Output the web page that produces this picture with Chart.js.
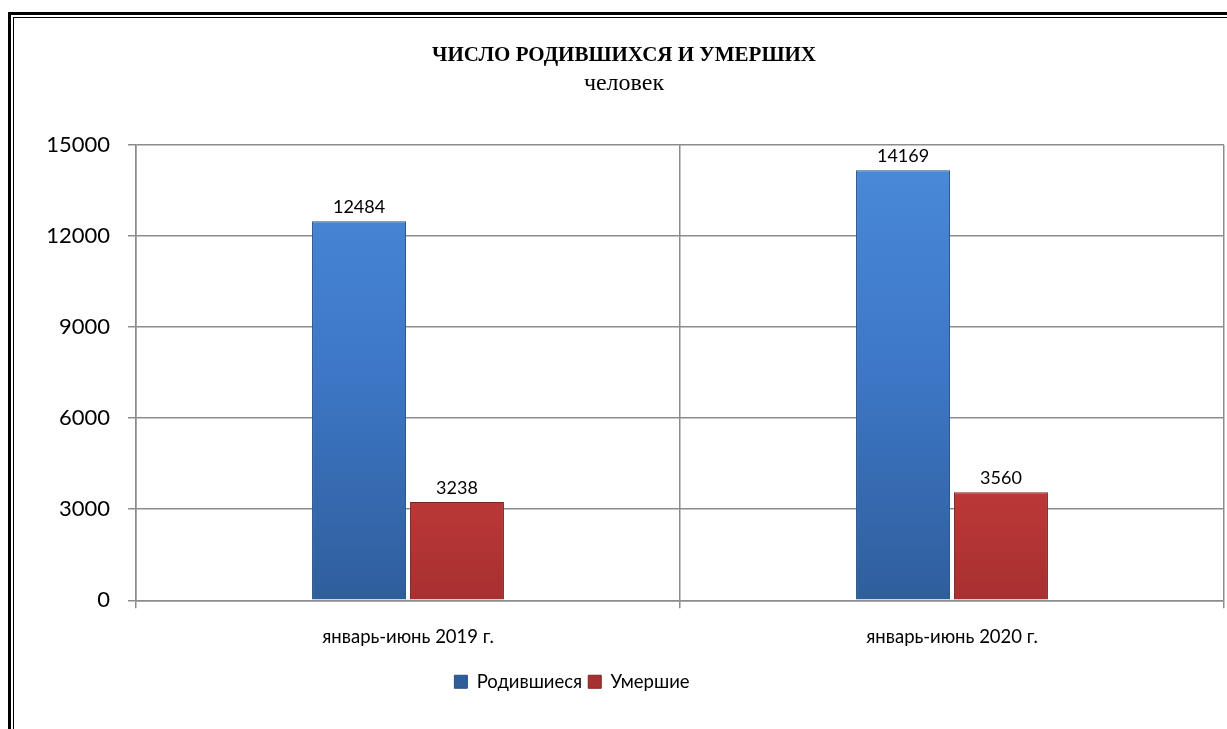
<!DOCTYPE html>
<html>
<head>
<meta charset="utf-8">
<script src="https://cdn.jsdelivr.net/npm/chart.js@4"></script>
<style>
  html, body { margin: 0; padding: 0; background: #fff; overflow: hidden; }
  #wrap { position: relative; width: 1227px; height: 729px; }
  #grafico { position: absolute; left: 0; top: 0; }
  .frame-out { position: absolute; left: 8px; top: 12px; right: -10px; bottom: -10px;
               border-left: 3px solid #000; border-top: 3px solid #000; }
  .frame-in { position: absolute; left: 13px; top: 17px; right: -10px; bottom: -10px;
              border-left: 1px solid #000; border-top: 1px solid #000; }
</style>
</head>
<body>
<div id="wrap">
  <div class="frame-out"></div>
  <div class="frame-in"></div>
  <canvas id="grafico" width="1227" height="729"></canvas>
</div>
<script>
const categorias = ['январь-июнь 2019 г.', 'январь-июнь 2020 г.'];
const rodivshiesya = [12484, 14169];
const umershie = [3238, 3560];
const yTicks = [0, 3000, 6000, 9000, 12000, 15000];

function gradiente(ctx, area, cima, meio, baixo) {
    const g = ctx.createLinearGradient(0, area.top, 0, area.bottom);
    g.addColorStop(0, cima);
    g.addColorStop(0.5, meio);
    g.addColorStop(1, baixo);
    return g;
}

// values above bars
const rotulos = {
    id: 'rotulos',
    afterDatasetsDraw(chart) {
        const ctx = chart.ctx;
        ctx.save();
        ctx.font = '18px Lato';
        ctx.fillStyle = '#000';
        ctx.textAlign = 'center';
        ctx.textBaseline = 'alphabetic';
        chart.data.datasets.forEach((ds, i) => {
            chart.getDatasetMeta(i).data.forEach((bar, j) => {
                ctx.fillText(ds.data[j], bar.x, bar.y - 8);
            });
        });
        ctx.restore();
    }
};

// legend sits left of center in the original
const moverLegenda = {
    id: 'moverLegenda',
    afterLayout(chart) {
        const lg = chart.legend;
        if (lg) { lg.left -= 52; lg.right -= 52; }
    }
};

document.addEventListener('DOMContentLoaded', function () {
    const ctx = document.getElementById('grafico').getContext('2d');
    new Chart(ctx, {
        type: 'bar',
        data: {
            labels: categorias,
            datasets: [{
                label: 'Родившиеся',
                data: rodivshiesya,
                backgroundColor: c => c.chart.chartArea
                    ? gradiente(c.chart.ctx, c.chart.chartArea, '#4a8bda', '#3d77c6', '#2f5e9c') : '#3d77c6',
                borderColor: '#2a4f80',
                borderWidth: 1
            }, {
                label: 'Умершие',
                data: umershie,
                backgroundColor: c => c.chart.chartArea
                    ? gradiente(c.chart.ctx, c.chart.chartArea, '#e24a4a', '#d24040', '#a83030') : '#d24040',
                borderColor: '#7e2222',
                borderWidth: 1
            }]
        },
        options: {
            responsive: false,
            animation: false,
            layout: { padding: { top: 42, left: 24, right: 3, bottom: 28 } },
            datasets: { bar: { categoryPercentage: 0.36, barPercentage: 0.96 } },
            scales: {
                y: {
                    min: 0,
                    max: 15000,
                    afterFit: s => { s.width = 112; },
                    afterBuildTicks: s => { s.ticks = yTicks.map(v => ({ value: v })); },
                    ticks: {
                        color: '#000', padding: 18, font: { family: 'Lato', size: 22 },
                        callback: v => String(v)
                    },
                    grid: { color: '#8c8c8c', lineWidth: 1.5, tickLength: 8 },
                    border: { color: '#8c8c8c', width: 1.5 }
                },
                x: {
                    ticks: { color: '#000', padding: 18, font: { family: 'Lato', size: 18.5 } },
                    grid: { color: '#8c8c8c', lineWidth: 1.5, tickLength: 8 },
                    border: { color: '#8c8c8c', width: 1.5 }
                }
            },
            plugins: {
                title: {
                    display: true,
                    text: 'ЧИСЛО РОДИВШИХСЯ И УМЕРШИХ',
                    color: '#000',
                    font: { family: 'Liberation Serif', size: 21, weight: 'bold' },
                    padding: { top: 1, bottom: 0 }
                },
                subtitle: {
                    display: true,
                    text: 'человек',
                    color: '#000',
                    font: { family: 'Liberation Serif', size: 24 },
                    padding: { top: 1, bottom: 47 }
                },
                legend: {
                    position: 'bottom',
                    labels: {
                        color: '#000',
                        boxWidth: 13,
                        boxHeight: 13,
                        padding: 6,
                        font: { family: 'Lato', size: 18.5 }
                    }
                },
                tooltip: { enabled: false }
            }
        },
        plugins: [rotulos, moverLegenda]
    });
});
</script>
</body>
</html>
